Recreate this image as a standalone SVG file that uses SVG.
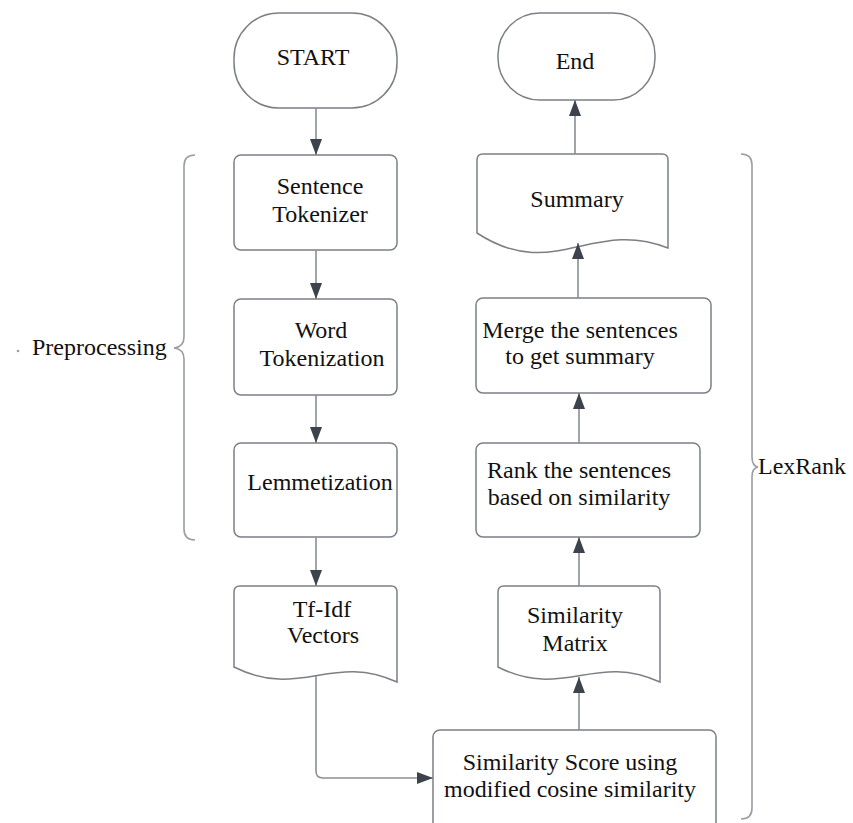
<svg xmlns="http://www.w3.org/2000/svg" width="853" height="823" viewBox="0 0 853 823">
  <defs>
    <marker id="ah" viewBox="0 0 16 12" refX="16" refY="6" markerWidth="16" markerHeight="12" markerUnits="userSpaceOnUse" orient="auto">
      <path d="M0,0 L16,6 L0,12 z" fill="#3d434c"/>
    </marker>
  </defs>
  <style>
    .shape { fill: #ffffff; stroke: #7b7f86; stroke-width: 1.5; }
    .conn { fill: none; stroke: #8a8e95; stroke-width: 1.6; marker-end: url(#ah); }
    .brace { fill: none; stroke: #9a9ea4; stroke-width: 1.6; }
    text { font-family: "Liberation Serif", "Times New Roman", serif; font-size: 24px; fill: #111111; }
    .c { text-anchor: middle; }
  </style>
  <rect width="853" height="823" fill="#ffffff"/>

  <g id="start">
    <rect class="shape" x="234" y="13" width="163" height="95" rx="45" ry="45"/>
    <text class="c" x="313" y="65">START</text>
  </g>
  <g id="end">
    <rect class="shape" x="498" y="13" width="157" height="87" rx="42" ry="42"/>
    <text class="c" x="575" y="69">End</text>
  </g>
  <g id="sentence-tokenizer">
    <rect class="shape" x="234" y="155" width="163" height="95" rx="7"/>
    <text class="c" x="320" y="194">Sentence</text>
    <text class="c" x="320" y="222">Tokenizer</text>
  </g>
  <g id="word-tokenization">
    <rect class="shape" x="234" y="299" width="163" height="96" rx="7"/>
    <text class="c" x="321" y="338">Word</text>
    <text class="c" x="322" y="366">Tokenization</text>
  </g>
  <g id="lemmetization">
    <rect class="shape" x="234" y="443" width="163" height="94" rx="7"/>
    <text class="c" x="320" y="490">Lemmetization</text>
  </g>
  <g id="tfidf-vectors">
    <path class="shape" d="M234,592 Q234,586 240,586 L391,586 Q397,586 397,592 L397,682 C332,652 300,700 234,667 Z"/>
    <text class="c" x="322" y="617">Tf-Idf</text>
    <text class="c" x="323" y="643">Vectors</text>
  </g>
  <g id="similarity-score">
    <rect class="shape" x="433" y="730" width="283" height="100" rx="7"/>
    <text class="c" x="570" y="770">Similarity Score using</text>
    <text class="c" x="570" y="797">modified cosine similarity</text>
  </g>
  <g id="similarity-matrix">
    <path class="shape" d="M498,592 Q498,586 504,586 L654,586 Q660,586 660,592 L660,682 C595,652 563,700 498,667 Z"/>
    <text class="c" x="575" y="623">Similarity</text>
    <text class="c" x="575" y="651">Matrix</text>
  </g>
  <g id="rank">
    <rect class="shape" x="476" y="443" width="224" height="94" rx="7"/>
    <text class="c" x="579" y="478">Rank the sentences</text>
    <text class="c" x="579" y="505">based on similarity</text>
  </g>
  <g id="merge">
    <rect class="shape" x="476" y="298" width="235" height="95" rx="7"/>
    <text class="c" x="580" y="338">Merge the sentences</text>
    <text class="c" x="580" y="364">to get summary</text>
  </g>
  <g id="summary">
    <path class="shape" d="M477,160 Q477,154 483,154 L662,154 Q668,154 668,160 L668,248 C592,218 553,283 477,233 Z"/>
    <text class="c" x="577" y="207">Summary</text>
  </g>

  <g id="preprocessing">
    <path class="brace" d="M195,155 Q184,155 184,166 L184,337 Q184,347 174,348 Q184,349 184,359 L184,529 Q184,540 195,540"/>
    <circle cx="18" cy="351" r="1.3" fill="#9a9ea4"/>
    <text x="32" y="355">Preprocessing</text>
  </g>
  <g id="lexrank">
    <path class="brace" d="M741,154 Q752,154 752,165 L752,457 Q752,466 758,467 Q752,468 752,477 L752,808 Q752,819 741,819"/>
    <text x="758" y="474">LexRank</text>
  </g>

  <g id="connectors">
    <path class="conn" d="M316,108 L316,155"/>
    <path class="conn" d="M316,250 L316,299"/>
    <path class="conn" d="M316,395 L316,443"/>
    <path class="conn" d="M316,537 L316,586"/>
    <path class="conn" d="M316,676 L316,771 Q316,778 323,778 L433,778"/>
    <path class="conn" d="M579,730 L579,677"/>
    <path class="conn" d="M579,586 L579,537"/>
    <path class="conn" d="M579,443 L579,393"/>
    <path class="conn" d="M578,298 L578,243"/>
    <path class="conn" d="M575,154 L575,100"/>
  </g>
</svg>
